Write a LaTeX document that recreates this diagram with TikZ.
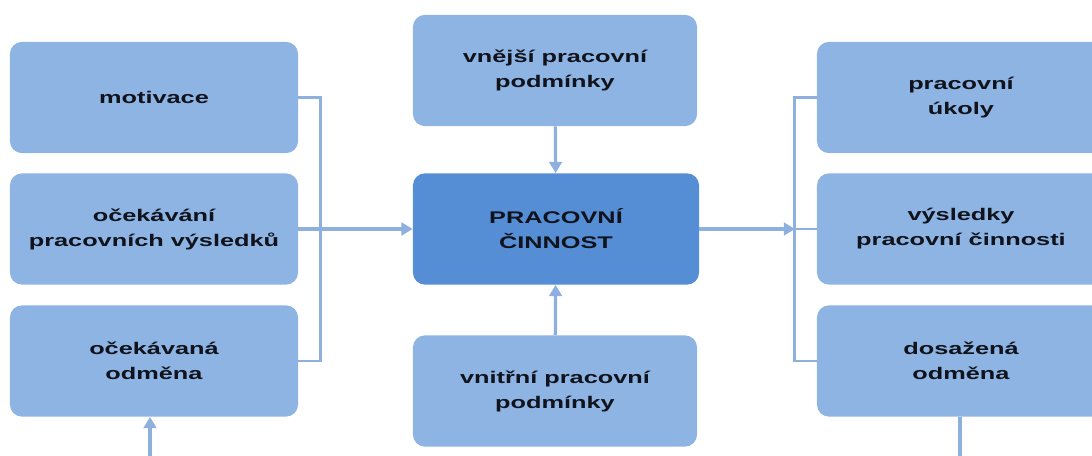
\documentclass[tikz,border=0pt]{standalone}
\usepackage{fontspec}
\setmainfont{Liberation Sans}[FakeStretch=1.5]
\usetikzlibrary{arrows.meta}
\definecolor{boxblue}{HTML}{8DB4E2}
\definecolor{coreblue}{HTML}{558ED5}
\definecolor{lineblue}{HTML}{8DB0DE}
\definecolor{txt}{HTML}{10131C}

\begin{document}
\begin{tikzpicture}[
    x=0.025cm, y=-0.025cm,
    box/.style={rectangle, rounded corners=0.3cm, fill=boxblue, text=txt,
        minimum width=7.2cm, minimum height=2.78cm, align=center,
        font=\fontsize{12}{17.8}\selectfont\bfseries},
    core/.style={box, fill=coreblue, minimum width=7.15cm},
    link/.style={lineblue, line width=2.3pt, -{Triangle[length=8pt, width=9pt]}},
    bracket/.style={lineblue, line width=1.8pt}
]

% Cadre de l'image
\useasboundingbox (0,0) rectangle (1092,455);
\clip (0,0) rectangle (1092,455);

% Colonne gauche
\node[box] (mot) at (154,97.5) {motivace};
\node[box] (ocek) at (154,229) {očekávání\\pracovních výsledků};
\node[box] (odm) at (154,361) {očekávaná\\odměna};

% Colonne centrale
\node[box, minimum width=7.1cm] (vnej) at (555,70.5) {vnější pracovní\\podmínky};
\node[core] (cin) at (556,229) {PRACOVNÍ\\ČINNOST};
\node[box, minimum width=7.1cm] (vnit) at (555,391) {vnitřní pracovní\\podmínky};

% Colonne droite (coupée au bord)
\node[box] (ukol) at (961,97.5) {pracovní\\úkoly};
\node[box] (vysl) at (961,229) {výsledky\\pracovní činnosti};
\node[box] (dos) at (961,361) {dosažená\\odměna};

% Accolade gauche
\draw[bracket] (mot.east) -- ++(22,0) |- (odm.east);
\draw[link] (ocek.east) -- (cin.west);

% Accolade droite
\draw[bracket] (ukol.west) -- ++(-22,0) |- (dos.west);
\draw[link] (cin.east) -- (vysl.west -| 795,0);
\draw[bracket] (vysl.west -| 795,0) -- (vysl.west);

% Conditions
\draw[link] (vnej) -- (cin);
\draw[link] (vnit) -- (cin);

% Boucle en bas
\coordinate (inL) at (150,460);
\coordinate (outR) at (960,460);
\draw[link] (inL) -- (inL |- odm.south);
\draw[bracket, line width=2.3pt] (dos.south -| outR) -- (outR);

\end{tikzpicture}
\end{document}
